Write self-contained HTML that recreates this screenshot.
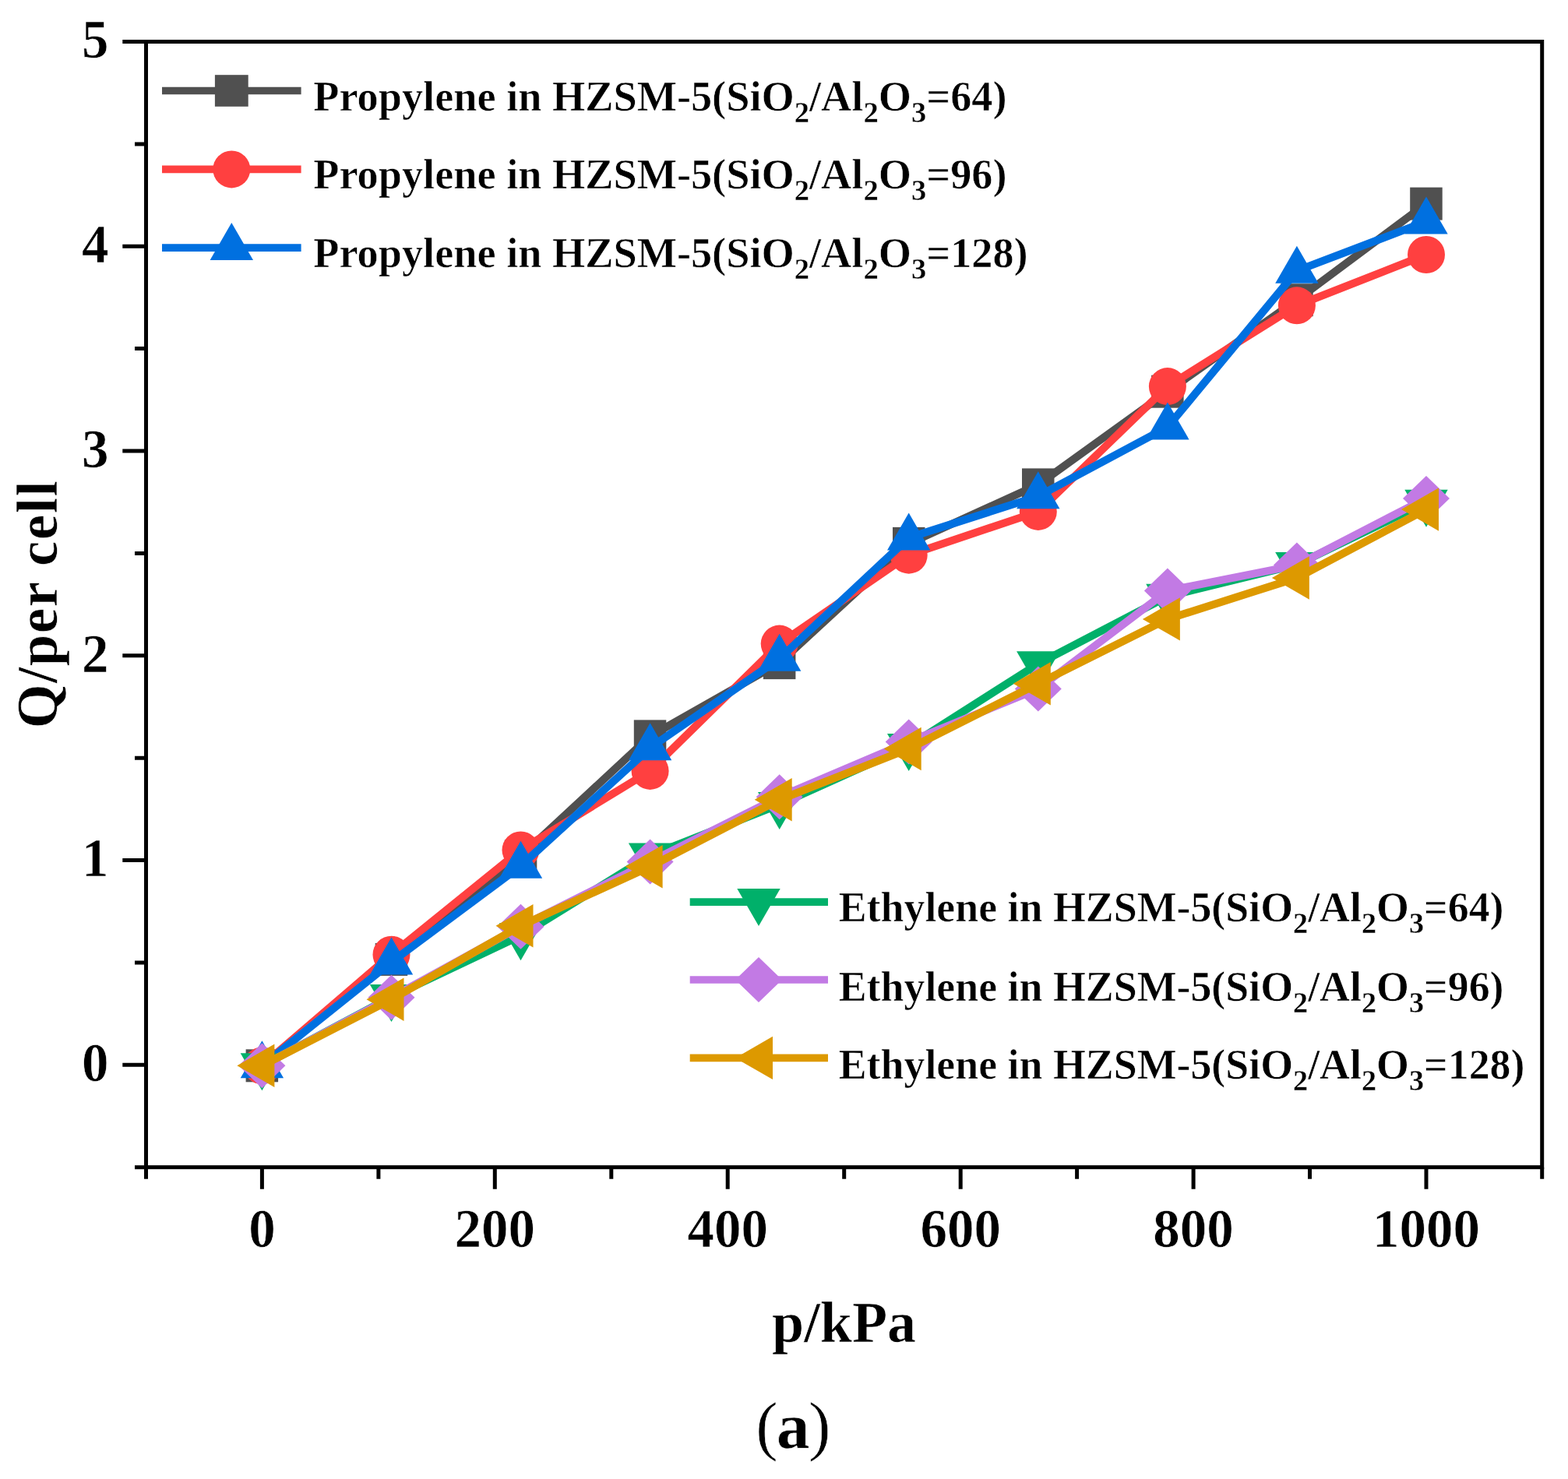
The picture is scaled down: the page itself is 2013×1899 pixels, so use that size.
<!DOCTYPE html>
<html><head><meta charset="utf-8"><title>Adsorption isotherms</title>
<style>
html,body{margin:0;padding:0;background:#fff;}
body{width:2013px;height:1899px;overflow:hidden;}
svg{display:block;}
text{font-family:"Liberation Serif","Times New Roman",serif;font-weight:bold;fill:#000;stroke:#fff;stroke-width:0.6px;}
</style></head><body>
<svg width="2013" height="1899" viewBox="0 0 2013 1899">
<rect width="2013" height="1899" fill="#fff"/>
<g><polyline points="336.4,1368.3 502.5,1231.9 668.5,1099.5 834.6,945.4 1000.7,851.1 1166.7,697.9 1332.8,622.4 1498.9,502.7 1664.9,385.2 1831.0,261.6" fill="none" stroke="#505050" stroke-width="10.0" stroke-linejoin="miter"/>
<rect x="315.6" y="1347.3" width="41.5" height="42" fill="#505050"/>
<rect x="481.7" y="1210.9" width="41.5" height="42" fill="#505050"/>
<rect x="647.8" y="1078.5" width="41.5" height="42" fill="#505050"/>
<rect x="813.8" y="924.4" width="41.5" height="42" fill="#505050"/>
<rect x="979.9" y="830.1" width="41.5" height="42" fill="#505050"/>
<rect x="1146.0" y="676.9" width="41.5" height="42" fill="#505050"/>
<rect x="1312.0" y="601.4" width="41.5" height="42" fill="#505050"/>
<rect x="1478.1" y="481.7" width="41.5" height="42" fill="#505050"/>
<rect x="1644.2" y="364.2" width="41.5" height="42" fill="#505050"/>
<rect x="1810.2" y="240.6" width="41.5" height="42" fill="#505050"/>
</g>
<g><polyline points="336.4,1368.3 502.5,1225.7 668.5,1091.4 834.6,989.9 1000.7,826.6 1166.7,712.7 1332.8,656.9 1498.9,496.1 1664.9,392.3 1831.0,327.0" fill="none" stroke="#FF4040" stroke-width="10.0" stroke-linejoin="miter"/>
<circle cx="336.4" cy="1368.3" r="24.0" fill="#FF4040"/>
<circle cx="502.5" cy="1225.7" r="24.0" fill="#FF4040"/>
<circle cx="668.5" cy="1091.4" r="24.0" fill="#FF4040"/>
<circle cx="834.6" cy="989.9" r="24.0" fill="#FF4040"/>
<circle cx="1000.7" cy="826.6" r="24.0" fill="#FF4040"/>
<circle cx="1166.7" cy="712.7" r="24.0" fill="#FF4040"/>
<circle cx="1332.8" cy="656.9" r="24.0" fill="#FF4040"/>
<circle cx="1498.9" cy="496.1" r="24.0" fill="#FF4040"/>
<circle cx="1664.9" cy="392.3" r="24.0" fill="#FF4040"/>
<circle cx="1831.0" cy="327.0" r="24.0" fill="#FF4040"/>
</g>
<g><polyline points="336.4,1368.3 502.5,1235.4 668.5,1111.8 834.6,960.2 1000.7,845.7 1166.7,690.5 1332.8,637.2 1498.9,548.4 1664.9,347.7 1831.0,284.4" fill="none" stroke="#0070E0" stroke-width="10.0" stroke-linejoin="miter"/>
<polygon points="336.4,1336.3 364.1,1384.3 308.7,1384.3" fill="#0070E0"/>
<polygon points="502.5,1203.4 530.2,1251.4 474.8,1251.4" fill="#0070E0"/>
<polygon points="668.5,1079.8 696.2,1127.8 640.8,1127.8" fill="#0070E0"/>
<polygon points="834.6,928.2 862.3,976.2 806.9,976.2" fill="#0070E0"/>
<polygon points="1000.7,813.7 1028.4,861.7 973.0,861.7" fill="#0070E0"/>
<polygon points="1166.7,658.5 1194.4,706.5 1139.0,706.5" fill="#0070E0"/>
<polygon points="1332.8,605.2 1360.5,653.2 1305.1,653.2" fill="#0070E0"/>
<polygon points="1498.9,516.4 1526.6,564.4 1471.2,564.4" fill="#0070E0"/>
<polygon points="1664.9,315.7 1692.6,363.7 1637.2,363.7" fill="#0070E0"/>
<polygon points="1831.0,252.4 1858.7,300.4 1803.3,300.4" fill="#0070E0"/>
</g>
<g><polyline points="336.4,1368.3 502.5,1280.0 668.5,1201.3 834.6,1098.6 1000.7,1033.0 1166.7,958.0 1332.8,852.3 1498.9,765.7 1664.9,725.0 1831.0,644.7" fill="none" stroke="#00B06A" stroke-width="10.0" stroke-linejoin="miter"/>
<polygon points="336.4,1400.3 364.1,1352.3 308.7,1352.3" fill="#00B06A"/>
<polygon points="502.5,1312.0 530.2,1264.0 474.8,1264.0" fill="#00B06A"/>
<polygon points="668.5,1233.3 696.2,1185.3 640.8,1185.3" fill="#00B06A"/>
<polygon points="834.6,1130.6 862.3,1082.6 806.9,1082.6" fill="#00B06A"/>
<polygon points="1000.7,1065.0 1028.4,1017.0 973.0,1017.0" fill="#00B06A"/>
<polygon points="1166.7,990.0 1194.4,942.0 1139.0,942.0" fill="#00B06A"/>
<polygon points="1332.8,884.3 1360.5,836.3 1305.1,836.3" fill="#00B06A"/>
<polygon points="1498.9,797.7 1526.6,749.7 1471.2,749.7" fill="#00B06A"/>
<polygon points="1664.9,757.0 1692.6,709.0 1637.2,709.0" fill="#00B06A"/>
<polygon points="1831.0,676.7 1858.7,628.7 1803.3,628.7" fill="#00B06A"/>
</g>
<g><polyline points="336.4,1368.3 502.5,1280.7 668.5,1189.7 834.6,1106.4 1000.7,1023.3 1166.7,952.5 1332.8,884.4 1498.9,758.6 1664.9,725.6 1831.0,639.9" fill="none" stroke="#C27AE4" stroke-width="10.0" stroke-linejoin="miter"/>
<polygon points="336.4,1339.3 366.4,1368.3 336.4,1397.3 306.4,1368.3" fill="#C27AE4"/>
<polygon points="502.5,1251.7 532.5,1280.7 502.5,1309.7 472.5,1280.7" fill="#C27AE4"/>
<polygon points="668.5,1160.7 698.5,1189.7 668.5,1218.7 638.5,1189.7" fill="#C27AE4"/>
<polygon points="834.6,1077.4 864.6,1106.4 834.6,1135.4 804.6,1106.4" fill="#C27AE4"/>
<polygon points="1000.7,994.3 1030.7,1023.3 1000.7,1052.3 970.7,1023.3" fill="#C27AE4"/>
<polygon points="1166.7,923.5 1196.7,952.5 1166.7,981.5 1136.7,952.5" fill="#C27AE4"/>
<polygon points="1332.8,855.4 1362.8,884.4 1332.8,913.4 1302.8,884.4" fill="#C27AE4"/>
<polygon points="1498.9,729.6 1528.9,758.6 1498.9,787.6 1468.9,758.6" fill="#C27AE4"/>
<polygon points="1664.9,696.6 1694.9,725.6 1664.9,754.6 1634.9,725.6" fill="#C27AE4"/>
<polygon points="1831.0,610.9 1861.0,639.9 1831.0,668.9 1801.0,639.9" fill="#C27AE4"/>
</g>
<g><polyline points="336.4,1368.3 502.5,1283.2 668.5,1188.7 834.6,1112.8 1000.7,1026.8 1166.7,961.5 1332.8,877.7 1498.9,794.9 1664.9,742.0 1831.0,654.1" fill="none" stroke="#DD9900" stroke-width="10.0" stroke-linejoin="miter"/>
<polygon points="304.4,1368.3 352.4,1340.6 352.4,1396.0" fill="#DD9900"/>
<polygon points="470.5,1283.2 518.5,1255.5 518.5,1310.9" fill="#DD9900"/>
<polygon points="636.5,1188.7 684.5,1161.0 684.5,1216.4" fill="#DD9900"/>
<polygon points="802.6,1112.8 850.6,1085.1 850.6,1140.5" fill="#DD9900"/>
<polygon points="968.7,1026.8 1016.7,999.1 1016.7,1054.5" fill="#DD9900"/>
<polygon points="1134.7,961.5 1182.7,933.8 1182.7,989.2" fill="#DD9900"/>
<polygon points="1300.8,877.7 1348.8,850.0 1348.8,905.4" fill="#DD9900"/>
<polygon points="1466.9,794.9 1514.9,767.2 1514.9,822.6" fill="#DD9900"/>
<polygon points="1632.9,742.0 1680.9,714.3 1680.9,769.7" fill="#DD9900"/>
<polygon points="1799.0,654.1 1847.0,626.4 1847.0,681.8" fill="#DD9900"/>
</g>
<g stroke="#000" stroke-width="5" fill="none" stroke-linecap="square">
<rect x="187.5" y="53.5" width="1792.2" height="1445.2" stroke-linejoin="miter"/>
</g>
<path d="M157.3,1367.3H187.5M157.3,1104.5H187.5M157.3,841.8H187.5M157.3,579.0H187.5M157.3,316.3H187.5M157.3,53.5H187.5M173.0,1498.7H187.5M173.0,1235.9H187.5M173.0,973.2H187.5M173.0,710.4H187.5M173.0,447.6H187.5M173.0,184.9H187.5M336.4,1498.7V1526.7M635.3,1498.7V1526.7M934.2,1498.7V1526.7M1233.2,1498.7V1526.7M1532.1,1498.7V1526.7M1831.0,1498.7V1526.7M187.5,1498.7V1513.7M485.9,1498.7V1513.7M784.8,1498.7V1513.7M1083.7,1498.7V1513.7M1382.6,1498.7V1513.7M1681.5,1498.7V1513.7M1979.7,1498.7V1513.7" stroke="#000" stroke-width="5" fill="none"/>
<text x="139.5" y="1388.1" font-size="69" text-anchor="end">0</text>
<text x="139.5" y="1125.3" font-size="69" text-anchor="end">1</text>
<text x="139.5" y="862.6" font-size="69" text-anchor="end">2</text>
<text x="139.5" y="599.8" font-size="69" text-anchor="end">3</text>
<text x="139.5" y="337.1" font-size="69" text-anchor="end">4</text>
<text x="139.5" y="74.3" font-size="69" text-anchor="end">5</text>
<text x="336.4" y="1601" font-size="69" text-anchor="middle">0</text>
<text x="635.3" y="1601" font-size="69" text-anchor="middle">200</text>
<text x="934.2" y="1601" font-size="69" text-anchor="middle">400</text>
<text x="1233.2" y="1601" font-size="69" text-anchor="middle">600</text>
<text x="1532.1" y="1601" font-size="69" text-anchor="middle">800</text>
<text x="1831.0" y="1601" font-size="69" text-anchor="middle">1000</text>
<text x="1083.6" y="1722.7" font-size="74" text-anchor="middle">p/kPa</text>
<text transform="translate(73.4,935.3) rotate(-90)" x="0" y="0" font-size="73" textLength="318" lengthAdjust="spacing">Q/per cell</text>
<text y="1859.4" font-size="85.4" style="font-weight:normal"><tspan x="970.3">(</tspan><tspan x="996.7" style="font-weight:bold">a</tspan><tspan x="1038">)</tspan></text>
<line x1="208" y1="116.5" x2="386.6" y2="116.5" stroke="#505050" stroke-width="9.7"/>
<rect x="275.9" y="96.2" width="42.8" height="40.6" fill="#505050"/>
<text x="402.3" y="141.6" font-size="54.3">Propylene in HZSM-5(SiO<tspan font-size="38.6" dy="15.2" style="stroke-width:0.3px">2</tspan><tspan dy="-15.2">/Al</tspan><tspan font-size="38.6" dy="15.2" style="stroke-width:0.3px">2</tspan><tspan dy="-15.2">O</tspan><tspan font-size="38.6" dy="15.2" style="stroke-width:0.3px">3</tspan><tspan dy="-15.2">=64)</tspan></text>
<line x1="208" y1="217.4" x2="386.6" y2="217.4" stroke="#FF4040" stroke-width="9.7"/>
<circle cx="297.3" cy="217.4" r="24.0" fill="#FF4040"/>
<text x="402.3" y="242.2" font-size="54.3">Propylene in HZSM-5(SiO<tspan font-size="38.6" dy="15.2" style="stroke-width:0.3px">2</tspan><tspan dy="-15.2">/Al</tspan><tspan font-size="38.6" dy="15.2" style="stroke-width:0.3px">2</tspan><tspan dy="-15.2">O</tspan><tspan font-size="38.6" dy="15.2" style="stroke-width:0.3px">3</tspan><tspan dy="-15.2">=96)</tspan></text>
<line x1="208" y1="318.1" x2="386.6" y2="318.1" stroke="#0070E0" stroke-width="9.7"/>
<polygon points="297.3,286.1 325.0,334.1 269.6,334.1" fill="#0070E0"/>
<text x="402.3" y="342.8" font-size="54.3">Propylene in HZSM-5(SiO<tspan font-size="38.6" dy="15.2" style="stroke-width:0.3px">2</tspan><tspan dy="-15.2">/Al</tspan><tspan font-size="38.6" dy="15.2" style="stroke-width:0.3px">2</tspan><tspan dy="-15.2">O</tspan><tspan font-size="38.6" dy="15.2" style="stroke-width:0.3px">3</tspan><tspan dy="-15.2">=128)</tspan></text>
<line x1="885.7" y1="1158.1" x2="1063" y2="1158.1" stroke="#00B06A" stroke-width="9.7"/>
<polygon points="974.0,1189.1 1001.7,1141.1 946.3,1141.1" fill="#00B06A"/>
<text x="1076.7" y="1183.3" font-size="53.85">Ethylene in HZSM-5(SiO<tspan font-size="38.2" dy="15.1" style="stroke-width:0.3px">2</tspan><tspan dy="-15.1">/Al</tspan><tspan font-size="38.2" dy="15.1" style="stroke-width:0.3px">2</tspan><tspan dy="-15.1">O</tspan><tspan font-size="38.2" dy="15.1" style="stroke-width:0.3px">3</tspan><tspan dy="-15.1">=64)</tspan></text>
<line x1="885.7" y1="1258" x2="1063" y2="1258" stroke="#C27AE4" stroke-width="9.7"/>
<polygon points="974.0,1229.0 1004.0,1258.0 974.0,1287.0 944.0,1258.0" fill="#C27AE4"/>
<text x="1076.7" y="1284.5" font-size="53.85">Ethylene in HZSM-5(SiO<tspan font-size="38.2" dy="15.1" style="stroke-width:0.3px">2</tspan><tspan dy="-15.1">/Al</tspan><tspan font-size="38.2" dy="15.1" style="stroke-width:0.3px">2</tspan><tspan dy="-15.1">O</tspan><tspan font-size="38.2" dy="15.1" style="stroke-width:0.3px">3</tspan><tspan dy="-15.1">=96)</tspan></text>
<line x1="885.7" y1="1358.4" x2="1063" y2="1358.4" stroke="#DD9900" stroke-width="9.7"/>
<polygon points="944.0,1358.4 992.0,1330.7 992.0,1386.1" fill="#DD9900"/>
<text x="1076.7" y="1384.7" font-size="53.85">Ethylene in HZSM-5(SiO<tspan font-size="38.2" dy="15.1" style="stroke-width:0.3px">2</tspan><tspan dy="-15.1">/Al</tspan><tspan font-size="38.2" dy="15.1" style="stroke-width:0.3px">2</tspan><tspan dy="-15.1">O</tspan><tspan font-size="38.2" dy="15.1" style="stroke-width:0.3px">3</tspan><tspan dy="-15.1">=128)</tspan></text>
</svg></body></html>
